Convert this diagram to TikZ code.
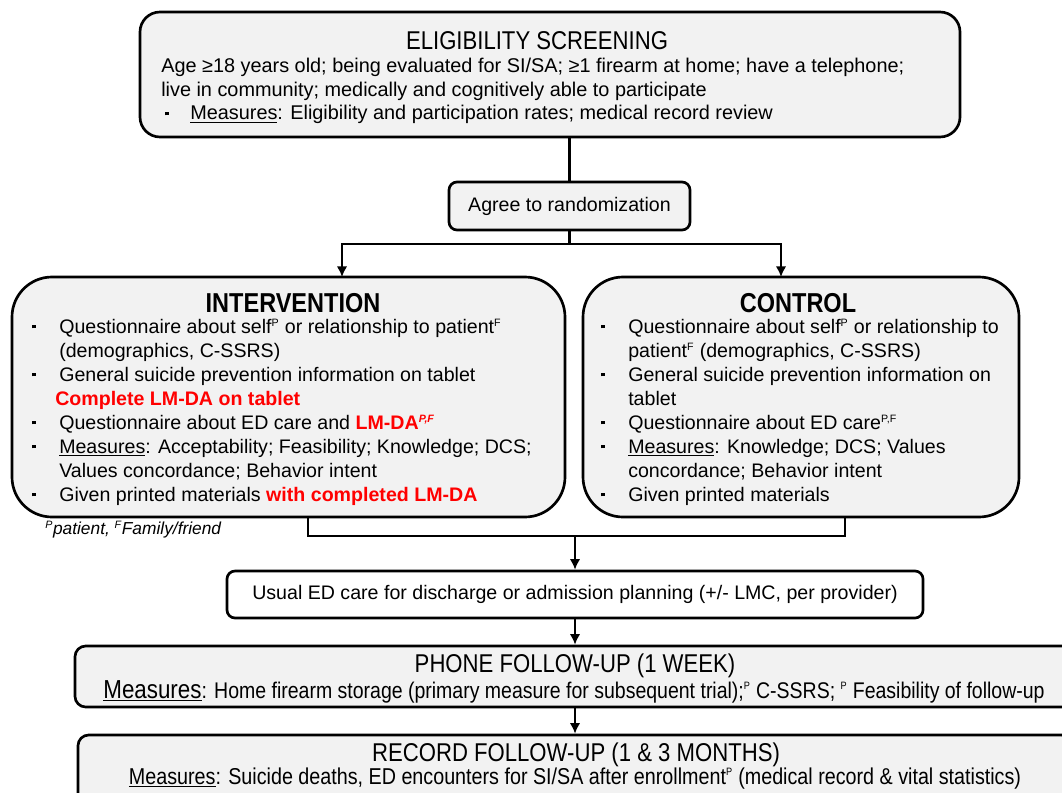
\documentclass[tikz,border=0pt]{standalone}
\usepackage{fontspec}
\setmainfont{Liberation Sans}
\newfontfamily\narrowfont[FakeStretch=0.86]{Liberation Sans}
\usetikzlibrary{arrows.meta}
\definecolor{boxgray}{HTML}{F2F2F2}
\definecolor{lmred}{HTML}{FF0000}
\newcommand{\bodyfont}{\fontsize{14.7}{18}\selectfont}
\newcommand{\ttlfont}{\narrowfont\fontsize{19.3}{22}\selectfont}
\newcommand{\bul}{\rule[3.5pt]{2.8pt}{2.8pt}}
\newcommand{\sps}[1]{\textsuperscript{\fontsize{8}{8}\selectfont #1}}

\begin{document}
\begin{tikzpicture}[x=0.75pt,y=-0.75pt,
  box/.style={draw,line width=2pt,fill=boxgray,inner sep=0pt,font=\bodyfont},
  ln/.style={line width=2pt},
  arr/.style={line width=2pt,-{Latex[length=8pt,width=8pt]}},
  ttl/.style={inner sep=0pt,anchor=base,font=\ttlfont},
  txt/.style={inner sep=0pt,anchor=base west,align=left,font=\bodyfont}]
\useasboundingbox[fill=white] (0,0) rectangle (1062,792);

% boxes
\node[box,rounded corners=15pt,minimum width=615pt,minimum height=93.75pt] (elig) at (550,74.5) {};
\node[box,rounded corners=6pt,minimum width=180.75pt,minimum height=36pt] (agree) at (569.5,206) {Agree to randomization};
\node[box,rounded corners=30pt,minimum width=414.75pt,minimum height=180pt] (inter) at (288.5,397) {};
\node[box,rounded corners=30pt,minimum width=327pt,minimum height=180pt] (ctrl) at (801,397) {};
\node[box,fill=white,rounded corners=6pt,minimum width=522pt,minimum height=35.25pt] (usual) at (575,594.5) {Usual ED care for discharge or admission planning (+/- LMC, per provider)};
\node[box,rounded corners=8pt,minimum width=750pt,minimum height=45.75pt] (phone) at (575,676.5) {};
\node[box,rounded corners=8pt,minimum width=745.5pt,minimum height=60pt] (record) at (575,775) {};

% eligibility
\node[ttl] (eligT) at (537,50) {ELIGIBILITY SCREENING};
\node[txt,font=\fontsize{14.9}{17.6}\selectfont] (eligB) at (161,73) {\begin{tabular}[t]{@{}p{21.75pt}@{}l@{}}
\multicolumn{2}{@{}l@{}}{Age ≥18 years old; being evaluated for SI/SA; ≥1 firearm at home; have a telephone;}\\
\multicolumn{2}{@{}l@{}}{live in community; medically and cognitively able to participate}\\
\hspace{3pt}\bul & \underline{Measures}: Eligibility and participation rates; medical record review
\end{tabular}};

% arms
\node[ttl,font=\ttlfont\bfseries\fontsize{20.5}{22}\selectfont] (interT) at (293,312) {INTERVENTION};
\node[txt] (interB) at (32,333) {\begin{tabular}[t]{@{}p{20.25pt}@{}l@{}}
\bul & Questionnaire about self\sps{P} or relationship to patient\sps{F}\\
 & (demographics, C-SSRS)\\
\bul & General suicide prevention information on tablet\\
 & \hspace{-3pt}\textcolor{lmred}{\bfseries Complete LM-DA on tablet}\\
\bul & Questionnaire about ED care and \textcolor{lmred}{\bfseries LM-DA\sps{\itshape P,F}}\\
\bul & \underline{Measures}: Acceptability; Feasibility; Knowledge; DCS;\\
 & Values concordance; Behavior intent\\
\bul & Given printed materials \textcolor{lmred}{\bfseries with completed LM-DA}
\end{tabular}};
\node[ttl,font=\ttlfont\bfseries\fontsize{20.5}{22}\selectfont] (ctrlT) at (798,312) {CONTROL};
\node[txt] (ctrlB) at (601,333) {\begin{tabular}[t]{@{}p{20.25pt}@{}l@{}}
\bul & Questionnaire about self\sps{P} or relationship to\\
 & patient\sps{F} (demographics, C-SSRS)\\
\bul & General suicide prevention information on\\
 & tablet\\
\bul & Questionnaire about ED care\sps{P,F}\\
\bul & \underline{Measures}: Knowledge; DCS; Values\\
 & concordance; Behavior intent\\
\bul & Given printed materials
\end{tabular}};
\node[txt,font=\itshape\fontsize{13}{15}\selectfont] (note) at (45,534) {\sps{P}patient, \sps{F}Family/friend};

% follow-up
\node[ttl] (phoneT) at (575,672) {PHONE FOLLOW-UP (1 WEEK)};
\node[ttl,font=\narrowfont\fontsize{17}{18}\selectfont] (phoneB) at (574,698) {{\fontsize{19.5}{20}\selectfont\underline{Measures}}: Home firearm storage (primary measure for subsequent trial);\sps{P} C-SSRS; \sps{P} Feasibility of follow-up};
\node[ttl] (recordT) at (576,761) {RECORD FOLLOW-UP (1 \& 3 MONTHS)};
\node[ttl,font=\narrowfont\fontsize{17.2}{18}\selectfont] (recordB) at (575,784) {\underline{Measures}: Suicide deaths, ED encounters for SI/SA after enrollment\sps{P} (medical record \& vital statistics)};

% connectors
\coordinate (split) at (569.5,244);
\coordinate (interIn) at (342,277);
\coordinate (ctrlIn) at (781,277);
\coordinate (interOut) at (308,517);
\coordinate (ctrlOut) at (845,517);
\coordinate (join) at (575,536);
\draw[ln] (elig.south -| agree.north) -- (agree.north);
\draw[arr] (agree.south) -- (split) -| (interIn);
\draw[arr] (split) -| (ctrlIn);
\draw[ln] (interOut) |- (join) -| (ctrlOut);
\draw[arr] (join) -- (usual.north);
\draw[arr] (usual.south) -- (phone.north);
\draw[arr] (phone.south) -- (record.north);
\end{tikzpicture}
\end{document}
